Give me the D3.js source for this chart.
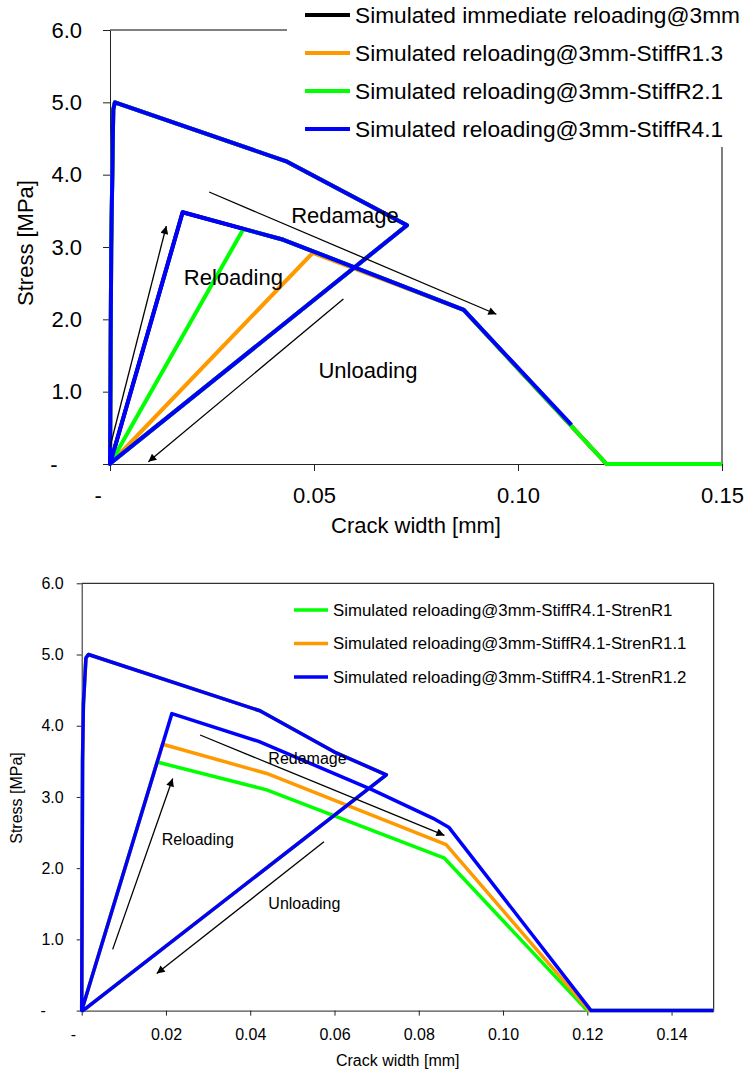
<!DOCTYPE html>
<html>
<head>
<meta charset="utf-8">
<script src="https://cdnjs.cloudflare.com/ajax/libs/d3/7.8.5/d3.min.js"></script>
<style>
  body { margin: 0; background: #fff; }
  svg { display: block; font-family: "Liberation Sans", Arial, sans-serif; }
</style>
</head>
<body>
<script>
// ---- data: top chart (crack width [mm], stress [MPa]) ----
var topEnvelope = [[0, 0], [0.0003, 3.0], [0.0008, 4.9], [0.0012, 5.0],
                   [0.0434, 4.18], [0.0728, 3.30], [0.0005, 0.03], [0, 0]];
var topBlackReload  = [[0.0178, 3.48], [0.0425, 3.10], [0.0867, 2.13], [0.1217, 0], [0.15, 0]];
var topOrangeReload = [[0.0497, 2.92], [0.0867, 2.13], [0.1217, 0], [0.15, 0]];
var topGreenReload  = [[0.0327, 3.25], [0.0425, 3.10], [0.0867, 2.13], [0.1217, 0], [0.15, 0]];
var topBlueReload   = [[0.0178, 3.48], [0.0425, 3.10], [0.0867, 2.13], [0.1131, 0.54]];
var topNames = ["Simulated immediate reloading@3mm", "Simulated reloading@3mm-StiffR1.3",
                "Simulated reloading@3mm-StiffR2.1", "Simulated reloading@3mm-StiffR4.1"];
var topColors = ["#000000", "#FF9900", "#00FF00", "#0000FF"];
var topXTicks = [0, 0.05, 0.10, 0.15];
var topXLabels = ["-", "0.05", "0.10", "0.15"];
var topYTicks = [0, 1, 2, 3, 4, 5, 6];
var topYLabels = ["-", "1.0", "2.0", "3.0", "4.0", "5.0", "6.0"];
var topArrows = [[0.0243, 3.76, 0.0947, 2.07], [0.0, 0.235, 0.0138, 3.29], [0.0572, 2.28, 0.0094, 0.03]];
var topNotes = [["Redamage", 0.0444, 3.33], ["Reloading", 0.0181, 2.47], ["Unloading", 0.0511, 1.19]];

// ---- data: bottom chart ----
var botEnvelope = [[0, 0], [0.0002, 3.5], [0.0004, 4.3], [0.0010, 4.95], [0.0016, 5.0],
                   [0.0423, 4.21], [0.060, 3.63], [0.0723, 3.31], [0.0003, 0.0], [0, 0]];
var botGreenReload  = [[0.0179, 3.49], [0.0439, 3.10], [0.0861, 2.14], [0.1200, 0], [0.15, 0]];
var botOrangeReload = [[0.0192, 3.74], [0.0439, 3.33], [0.0865, 2.33], [0.1205, 0], [0.15, 0]];
var botBlueReload   = [[0.0214, 4.17], [0.0420, 3.78], [0.0690, 3.10], [0.0834, 2.70], [0.0872, 2.57], [0.1209, 0], [0.15, 0]];
var botNames = ["Simulated reloading@3mm-StiffR4.1-StrenR1", "Simulated reloading@3mm-StiffR4.1-StrenR1.1",
                "Simulated reloading@3mm-StiffR4.1-StrenR1.2"];
var botColors = ["#00FF00", "#FF9900", "#0000FF"];
var botXTicks = [0, 0.02, 0.04, 0.06, 0.08, 0.10, 0.12, 0.14];
var botXLabels = ["-", "0.02", "0.04", "0.06", "0.08", "0.10", "0.12", "0.14"];
var botYTicks = [0, 1, 2, 3, 4, 5, 6];
var botYLabels = ["-", "1.0", "2.0", "3.0", "4.0", "5.0", "6.0"];
var botArrows = [[0.0281, 3.87, 0.0861, 2.46], [0.00735, 0.86, 0.0216, 3.26], [0.0575, 2.37, 0.0178, 0.52]];
var botNotes = [["Redamage", 0.0443, 3.46], ["Reloading", 0.019, 2.33], ["Unloading", 0.0443, 1.42]];

var w = 746, h = 1073;

var svg = d3.select("body").append("svg")
    .attr("width", w)
    .attr("height", h);

// arrowhead marker
svg.append("defs").append("marker")
    .attr("id", "arrow")
    .attr("markerUnits", "userSpaceOnUse")
    .attr("viewBox", "0 0 10 10")
    .attr("refX", 10).attr("refY", 5)
    .attr("markerWidth", 10).attr("markerHeight", 8)
    .attr("orient", "auto")
  .append("path")
    .attr("d", "M0,0 L10,5 L0,10 Z")
    .attr("fill", "#000");

function drawChart(c) {
  var g = svg.append("g");
  var x = d3.scaleLinear().domain([0, 0.15]).range([c.left, c.right]);
  var y = d3.scaleLinear().domain([0, 6]).range([c.bottom, c.top]);

  // frame (top + right)
  g.append("path")
    .attr("d", "M" + c.left + "," + c.top + "H" + c.right + "V" + c.bottom)
    .attr("fill", "none").attr("stroke", "#000").attr("stroke-width", 1);

  // axes
  var xAxis = d3.axisBottom(x).tickValues(c.xTicks)
      .tickFormat(function(d, i) { return c.xLabels[i]; })
      .tickSize(c.tick).tickSizeOuter(0).tickPadding(c.xPad);
  var yAxis = d3.axisLeft(y).tickValues(c.yTicks)
      .tickFormat(function(d, i) { return c.yLabels[i]; })
      .tickSize(c.tick).tickSizeOuter(0).tickPadding(c.yPad);

  var gx = g.append("g").attr("transform", "translate(0," + c.bottom + ")").call(xAxis);
  var gy = g.append("g").attr("transform", "translate(" + c.left + ",0)").call(yAxis);
  [gx, gy].forEach(function(a) {
    a.attr("font-family", null).attr("font-size", c.font);
    a.select(".domain").attr("stroke", "#222");
    a.selectAll(".tick line").attr("stroke", "#222");
    a.selectAll(".tick text").attr("fill", "#000");
  });
  // zero label "-" is padded by two digit widths (spreadsheet number format)
  gx.selectAll(".tick text").filter(function(d) { return d === 0; }).attr("dx", "-0.556em");
  gy.selectAll(".tick text").filter(function(d) { return d === 0; }).attr("dx", "-1.112em");

  // series
  var line = d3.line()
    .x(function(d) { return x(d[0]); })
    .y(function(d) { return y(d[1]); });

  g.selectAll(".series")
    .data(c.series)
    .enter().append("path")
    .attr("class", "series")
    .attr("d", function(d) { return line(d); })
    .attr("fill", "none")
    .attr("stroke", function(d, i) { return c.colors[i]; })
    .attr("stroke-width", c.lineW)
    .attr("stroke-linejoin", "round");

  // annotations
  g.selectAll(".arrow")
    .data(c.arrows)
    .enter().append("line")
    .attr("x1", function(d) { return x(d[0]); })
    .attr("y1", function(d) { return y(d[1]); })
    .attr("x2", function(d) { return x(d[2]); })
    .attr("y2", function(d) { return y(d[3]); })
    .attr("stroke", "#000")
    .attr("stroke-width", 1.3)
    .attr("marker-end", "url(#arrow)");

  g.selectAll(".note")
    .data(c.notes)
    .enter().append("text")
    .attr("x", function(d) { return x(d[1]); })
    .attr("y", function(d) { return y(d[2]); })
    .attr("font-size", c.font)
    .text(function(d) { return d[0]; });

  // axis titles
  g.append("text")
    .attr("x", (c.left + c.right) / 2)
    .attr("y", c.xTitleY)
    .attr("text-anchor", "middle")
    .attr("font-size", c.font)
    .text("Crack width [mm]");

  g.append("text")
    .attr("transform", "translate(" + c.yTitleX + "," + c.yTitleY + ") rotate(-90)")
    .attr("text-anchor", "middle")
    .attr("dy", "0.35em")
    .attr("font-size", c.font)
    .text("Stress [MPa]");

  // legend
  if (c.legendBox) {
    g.append("rect")
      .attr("x", c.legendBox[0]).attr("y", c.legendBox[1])
      .attr("width", c.legendBox[2]).attr("height", c.legendBox[3])
      .attr("fill", "#fff");
  }
  var lg = g.selectAll(".legend")
    .data(c.names)
    .enter().append("g")
    .attr("transform", function(d, i) { return "translate(" + c.legX + "," + (c.legY + i * c.legStep) + ")"; });
  lg.append("line")
    .attr("x1", 0).attr("x2", c.legLine)
    .attr("stroke", function(d, i) { return c.colors[i]; })
    .attr("stroke-width", c.lineW);
  lg.append("text")
    .attr("x", c.legLine + 5)
    .attr("dy", "0.35em")
    .attr("font-size", c.legFont)
    .text(function(d) { return d; });
}

drawChart({
  left: 110, right: 722, top: 30, bottom: 464,
  xTicks: topXTicks, xLabels: topXLabels, yTicks: topYTicks, yLabels: topYLabels,
  tick: 7, xPad: 16, yPad: 21, font: 22, lineW: 4,
  series: [topEnvelope.concat(topBlackReload), topEnvelope.concat(topOrangeReload),
           topEnvelope.concat(topGreenReload), topEnvelope.concat(topBlueReload)],
  colors: topColors, names: topNames,
  arrows: topArrows, notes: topNotes,
  xTitleY: 533, yTitleX: 25, yTitleY: 243,
  legendBox: [287, 0, 459, 147],
  legX: 305, legY: 15, legStep: 38, legLine: 45, legFont: 22.7
});

drawChart({
  left: 81.7, right: 713.7, top: 583.3, bottom: 1010.6,
  xTicks: botXTicks, xLabels: botXLabels, yTicks: botYTicks, yLabels: botYLabels,
  tick: 5, xPad: 13, yPad: 13, font: 16, lineW: 3.5,
  series: [botEnvelope.concat(botGreenReload), botEnvelope.concat(botOrangeReload),
           botEnvelope.concat(botBlueReload)],
  colors: botColors, names: botNames,
  arrows: botArrows, notes: botNotes,
  xTitleY: 1066, yTitleX: 16, yTitleY: 798,
  legendBox: null,
  legX: 294, legY: 610, legStep: 33.5, legLine: 34, legFont: 16.8
});
</script>
</body>
</html>
